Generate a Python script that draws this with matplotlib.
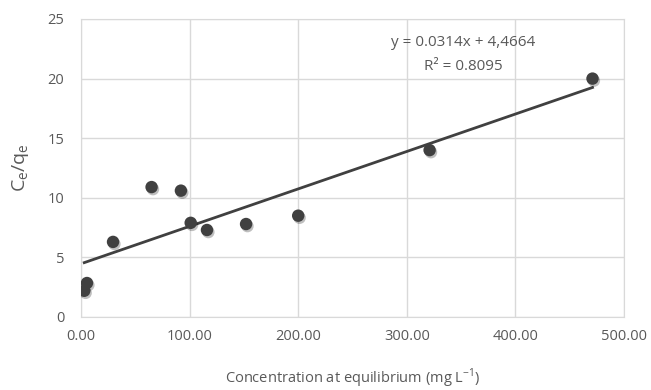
import matplotlib
matplotlib.use("Agg")
import matplotlib.pyplot as plt
import matplotlib.patheffects as pe
import numpy as np
from matplotlib.ticker import FormatStrFormatter

# data
ce = [3, 5.5, 29.5, 65, 92, 101, 116, 152, 200, 321, 471]
ce_qe = [2.2, 2.85, 6.3, 10.9, 10.6, 7.9, 7.3, 7.8, 8.5, 14.0, 20.0]
slope = 0.0314
intercept = 4.4664
r2_text = "R² = 0.8095"
eq_text = "y = 0.0314x + 4,4664"

plt.rcParams['font.family'] = ['Open Sans', 'DejaVu Sans']

fig = plt.figure(figsize=(6.51, 3.9), dpi=100)
ax = fig.add_axes([81/651, 1-317/390, 543/651, 298/390])

grey = '#595959'
ax.set_xlim(0, 500)
ax.set_ylim(0, 25)
ax.set_xticks(np.arange(0, 501, 100))
ax.set_yticks(np.arange(0, 26, 5))
ax.xaxis.set_major_formatter(FormatStrFormatter('%.2f'))
ax.grid(True, color='#d9d9d9', lw=1)
ax.set_axisbelow(True)
for s in ax.spines.values():
    s.set_color('#d9d9d9')
ax.tick_params(length=0, labelsize=10.5, colors=grey, pad=9)
ax.tick_params(axis='y', pad=12)

# trend line
xl = np.array([min(ce), max(ce)])
ax.plot(xl, slope*xl + intercept, color='#404040', lw=2, zorder=3)

sc = ax.scatter(ce, ce_qe, s=80, color='#404040', zorder=4, edgecolors='none')
sc.set_path_effects([pe.SimplePatchShadow(offset=(1, -1.5), alpha=0.25, shadow_rgbFace='black'), pe.Normal()])

ax.text(352, 23.0, eq_text, ha='center', va='center', fontsize=11, color=grey)
ax.text(352, 21.05, r2_text, ha='center', va='center', fontsize=11, color=grey)

ax.set_ylabel('C$_\\mathregular{e}$/q$_\\mathregular{e}$', fontsize=14, color=grey, labelpad=12)
ax.set_xlabel('Concentration at equilibrium (mg L$^\\mathregular{-1}$)', fontsize=10.5, color=grey, labelpad=16)

fig.savefig('out.png', dpi=100)
